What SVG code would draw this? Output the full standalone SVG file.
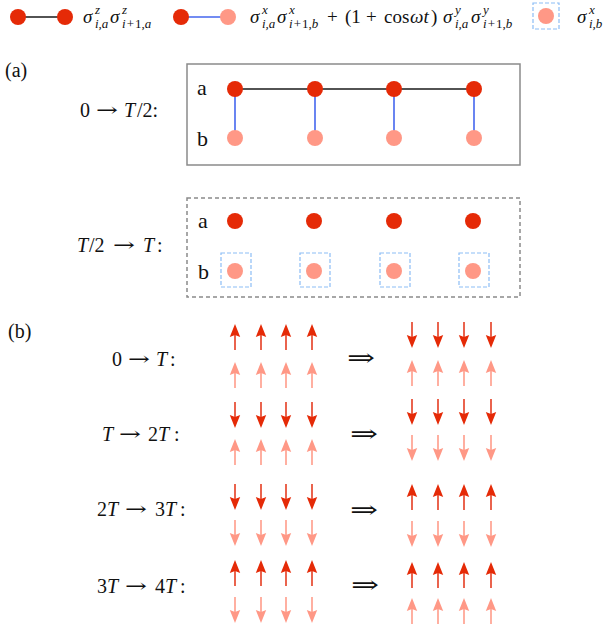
<svg xmlns="http://www.w3.org/2000/svg" xmlns:xlink="http://www.w3.org/1999/xlink" width="605" height="627" viewBox="0 0 605 627">
<style>
text{font-family:"Liberation Serif","DejaVu Serif",serif;fill:#111}
.m{font-size:19px}
.it{font-style:italic}
.s{font-size:13px;font-style:italic}
.lab{font-size:20px}
.ab{font-size:22px}
.to{font-family:"DejaVu Serif",serif;font-size:18px}
.dk{fill:#E52A07}
.lt{fill:#FF9886}
.box{fill:none;stroke:#8a8a8a;stroke-width:1.5}
.dbox{fill:none;stroke:#8a8a8a;stroke-width:1.5;stroke-dasharray:4 3}
.bsq{fill:none;stroke:#8CBDF6;stroke-width:1.2;stroke-dasharray:4 2}
.zz{stroke:#1a1a1a;stroke-width:1.6}
.xy{stroke:#4466EE;stroke-width:1.6}
.arr{font-family:"DejaVu Serif",serif;font-size:24px}
</style>
<defs>
<g id="aD"><path d="M0,26V9" stroke="#E8533A" stroke-width="1.8"/><path d="M0,0L-5.2,13L0,11L5.2,13Z" fill="#E52A07"/></g>
<g id="aL"><path d="M0,26V9" stroke="#FFA797" stroke-width="1.8"/><path d="M0,0L-5.2,13L0,11L5.2,13Z" fill="#FF9886"/></g>
</defs>

<g id="legend">
<g id="leg-zz">
<line class="zz" x1="18" y1="17" x2="65" y2="17"/>
<circle class="dk" cx="18" cy="17" r="8"/><circle class="dk" cx="65" cy="17" r="8"/>
<text class="m it" x="83" y="23">σ</text><text class="s" x="95" y="14">z</text><text class="s" x="95" y="28">i,a</text>
<text class="m it" x="110" y="23">σ</text><text class="s" x="122" y="14">z</text><text class="s" x="122" y="28">i<tspan font-style="normal" dx="1">+</tspan><tspan font-style="normal" dx="1">1,</tspan>a</text>
</g>
<g id="leg-xy">
<line class="xy" x1="181" y1="17" x2="228" y2="17"/>
<circle class="dk" cx="181" cy="17" r="8"/><circle class="lt" cx="228" cy="17" r="8"/>
<text class="m it" x="250" y="23">σ</text><text class="s" x="262" y="14">x</text><text class="s" x="262" y="28">i,a</text>
<text class="m it" x="277" y="23">σ</text><text class="s" x="289" y="14">x</text><text class="s" x="289" y="28">i<tspan font-style="normal" dx="1">+</tspan><tspan font-style="normal" dx="1">1,</tspan>b</text>
<text class="m" x="327" y="23">+</text>
<text class="m" x="345" y="23">(1</text><text class="m" x="366" y="23">+</text><text class="m" x="384" y="23">cos</text><text class="m it" x="410" y="23">ωt</text><text class="m" x="431" y="23">)</text>
<text class="m it" x="443" y="23">σ</text><text class="s" x="455" y="14">y</text><text class="s" x="455" y="28">i,a</text>
<text class="m it" x="471" y="23">σ</text><text class="s" x="483" y="14">y</text><text class="s" x="483" y="28">i<tspan font-style="normal" dx="1">+</tspan><tspan font-style="normal" dx="1">1,</tspan>b</text>
</g>
<g id="leg-x">
<rect class="bsq" x="533" y="3" width="26" height="26"/>
<circle class="lt" cx="546" cy="16" r="8"/>
<text class="m it" x="577" y="23">σ</text><text class="s" x="589" y="14">x</text><text class="s" x="589" y="28">i,b</text>
</g>
</g>

<g id="panel-a">
<text class="lab" x="5" y="77">(a)</text>
<text class="lab" x="80" y="117">0</text><text class="to" x="96" y="116" textLength="22" lengthAdjust="spacingAndGlyphs">→</text><text class="lab it" x="124" y="117">T</text><text class="lab" x="137" y="117">/2:</text>
<rect class="box" x="187" y="64" width="333" height="101"/>
<text class="ab" x="197" y="95">a</text>
<text class="ab" x="197" y="146">b</text>
<g id="connectors-a">
<line class="zz" x1="235" y1="89" x2="474" y2="89"/>
<line class="xy" x1="235" y1="89" x2="235" y2="138"/>
<line class="xy" x1="315" y1="89" x2="315" y2="138"/>
<line class="xy" x1="394" y1="89" x2="394" y2="138"/>
<line class="xy" x1="474" y1="89" x2="474" y2="138"/>
</g>
<g id="a1-top"><circle class="dk" cx="235" cy="89" r="8"/></g>
<g id="a2-top"><circle class="dk" cx="315" cy="89" r="8"/></g>
<g id="a3-top"><circle class="dk" cx="394" cy="89" r="8"/></g>
<g id="a4-top"><circle class="dk" cx="474" cy="89" r="8"/></g>
<g id="b1-top"><circle class="lt" cx="235" cy="138" r="8"/></g>
<g id="b2-top"><circle class="lt" cx="315" cy="138" r="8"/></g>
<g id="b3-top"><circle class="lt" cx="394" cy="138" r="8"/></g>
<g id="b4-top"><circle class="lt" cx="474" cy="138" r="8"/></g>

<text class="lab it" x="77" y="252">T</text><text class="lab" x="89" y="252">/2</text><text class="to" x="113" y="251" textLength="22" lengthAdjust="spacingAndGlyphs">→</text><text class="lab it" x="143" y="252">T</text><text class="lab" x="157" y="252">:</text>
<rect class="dbox" x="187" y="198" width="333" height="99"/>
<text class="ab" x="198" y="228">a</text>
<text class="ab" x="198" y="279">b</text>
<g id="a1-bot"><circle class="dk" cx="235" cy="221" r="8"/></g>
<g id="a2-bot"><circle class="dk" cx="314" cy="221" r="8"/></g>
<g id="a3-bot"><circle class="dk" cx="394" cy="221" r="8"/></g>
<g id="a4-bot"><circle class="dk" cx="473" cy="221" r="8"/></g>
<g id="b1-bot"><rect class="bsq" x="221" y="253" width="30" height="34"/><circle class="lt" cx="235" cy="271" r="8"/></g>
<g id="b2-bot"><rect class="bsq" x="300" y="253" width="30" height="34"/><circle class="lt" cx="314" cy="271" r="8"/></g>
<g id="b3-bot"><rect class="bsq" x="380" y="253" width="30" height="34"/><circle class="lt" cx="394" cy="271" r="8"/></g>
<g id="b4-bot"><rect class="bsq" x="459" y="253" width="30" height="34"/><circle class="lt" cx="473" cy="271" r="8"/></g>
</g>

<g id="panel-b">
<text class="lab" x="8" y="338">(b)</text>
<text class="lab" x="112" y="366">0</text><text class="to" x="128" y="365" textLength="22" lengthAdjust="spacingAndGlyphs">→</text><text class="lab it" x="156" y="366">T</text><text class="lab" x="170" y="366">:</text>
<text class="lab it" x="102" y="441">T</text><text class="to" x="119" y="440" textLength="22" lengthAdjust="spacingAndGlyphs">→</text><text class="lab" x="148" y="441">2</text><text class="lab it" x="158" y="441">T</text><text class="lab" x="174" y="441">:</text>
<text class="lab" x="97" y="516">2</text><text class="lab it" x="107" y="516">T</text><text class="to" x="125" y="515" textLength="22" lengthAdjust="spacingAndGlyphs">→</text><text class="lab" x="155" y="516">3</text><text class="lab it" x="165" y="516">T</text><text class="lab" x="180" y="516">:</text>
<text class="lab" x="97" y="593">3</text><text class="lab it" x="107" y="593">T</text><text class="to" x="125" y="592" textLength="22" lengthAdjust="spacingAndGlyphs">→</text><text class="lab" x="155" y="593">4</text><text class="lab it" x="165" y="593">T</text><text class="lab" x="180" y="593">:</text>

<text class="arr" x="347" y="366" textLength="28" lengthAdjust="spacingAndGlyphs">⇒</text>
<text class="arr" x="350" y="442" textLength="28" lengthAdjust="spacingAndGlyphs">⇒</text>
<text class="arr" x="350" y="518" textLength="28" lengthAdjust="spacingAndGlyphs">⇒</text>
<text class="arr" x="351" y="593" textLength="28" lengthAdjust="spacingAndGlyphs">⇒</text>

<!-- row 1 left: dark up, light up -->
<use xlink:href="#aD" transform="translate(235,324)"/><use xlink:href="#aD" transform="translate(261,324)"/><use xlink:href="#aD" transform="translate(286,324)"/><use xlink:href="#aD" transform="translate(312,324)"/>
<use xlink:href="#aL" transform="translate(235,362)"/><use xlink:href="#aL" transform="translate(261,362)"/><use xlink:href="#aL" transform="translate(286,362)"/><use xlink:href="#aL" transform="translate(312,362)"/>
<!-- row 1 right: dark down, light up -->
<use xlink:href="#aD" transform="translate(412,348) rotate(180)"/><use xlink:href="#aD" transform="translate(438,348) rotate(180)"/><use xlink:href="#aD" transform="translate(464,348) rotate(180)"/><use xlink:href="#aD" transform="translate(491,348) rotate(180)"/>
<use xlink:href="#aL" transform="translate(412,360)"/><use xlink:href="#aL" transform="translate(438,360)"/><use xlink:href="#aL" transform="translate(464,360)"/><use xlink:href="#aL" transform="translate(491,360)"/>
<!-- row 2 left: dark down, light up -->
<use xlink:href="#aD" transform="translate(235,428) rotate(180)"/><use xlink:href="#aD" transform="translate(261,428) rotate(180)"/><use xlink:href="#aD" transform="translate(286,428) rotate(180)"/><use xlink:href="#aD" transform="translate(312,428) rotate(180)"/>
<use xlink:href="#aL" transform="translate(235,439)"/><use xlink:href="#aL" transform="translate(261,439)"/><use xlink:href="#aL" transform="translate(286,439)"/><use xlink:href="#aL" transform="translate(312,439)"/>
<!-- row 2 right: dark down, light down -->
<use xlink:href="#aD" transform="translate(412,425) rotate(180)"/><use xlink:href="#aD" transform="translate(438,425) rotate(180)"/><use xlink:href="#aD" transform="translate(464,425) rotate(180)"/><use xlink:href="#aD" transform="translate(491,425) rotate(180)"/>
<use xlink:href="#aL" transform="translate(412,461) rotate(180)"/><use xlink:href="#aL" transform="translate(438,461) rotate(180)"/><use xlink:href="#aL" transform="translate(464,461) rotate(180)"/><use xlink:href="#aL" transform="translate(491,461) rotate(180)"/>
<!-- row 3 left: dark down, light down -->
<use xlink:href="#aD" transform="translate(235,510) rotate(180)"/><use xlink:href="#aD" transform="translate(261,510) rotate(180)"/><use xlink:href="#aD" transform="translate(286,510) rotate(180)"/><use xlink:href="#aD" transform="translate(312,510) rotate(180)"/>
<use xlink:href="#aL" transform="translate(235,546) rotate(180)"/><use xlink:href="#aL" transform="translate(261,546) rotate(180)"/><use xlink:href="#aL" transform="translate(286,546) rotate(180)"/><use xlink:href="#aL" transform="translate(312,546) rotate(180)"/>
<!-- row 3 right: dark up, light down -->
<use xlink:href="#aD" transform="translate(412,484)"/><use xlink:href="#aD" transform="translate(438,484)"/><use xlink:href="#aD" transform="translate(464,484)"/><use xlink:href="#aD" transform="translate(491,484)"/>
<use xlink:href="#aL" transform="translate(412,547) rotate(180)"/><use xlink:href="#aL" transform="translate(438,547) rotate(180)"/><use xlink:href="#aL" transform="translate(464,547) rotate(180)"/><use xlink:href="#aL" transform="translate(491,547) rotate(180)"/>
<!-- row 4 left: dark up, light down -->
<use xlink:href="#aD" transform="translate(235,560)"/><use xlink:href="#aD" transform="translate(261,560)"/><use xlink:href="#aD" transform="translate(286,560)"/><use xlink:href="#aD" transform="translate(312,560)"/>
<use xlink:href="#aL" transform="translate(235,623) rotate(180)"/><use xlink:href="#aL" transform="translate(261,623) rotate(180)"/><use xlink:href="#aL" transform="translate(286,623) rotate(180)"/><use xlink:href="#aL" transform="translate(312,623) rotate(180)"/>
<!-- row 4 right: dark up, light up -->
<use xlink:href="#aD" transform="translate(412,562)"/><use xlink:href="#aD" transform="translate(438,562)"/><use xlink:href="#aD" transform="translate(464,562)"/><use xlink:href="#aD" transform="translate(491,562)"/>
<use xlink:href="#aL" transform="translate(412,598)"/><use xlink:href="#aL" transform="translate(438,598)"/><use xlink:href="#aL" transform="translate(464,598)"/><use xlink:href="#aL" transform="translate(491,598)"/>
</g>
</svg>
